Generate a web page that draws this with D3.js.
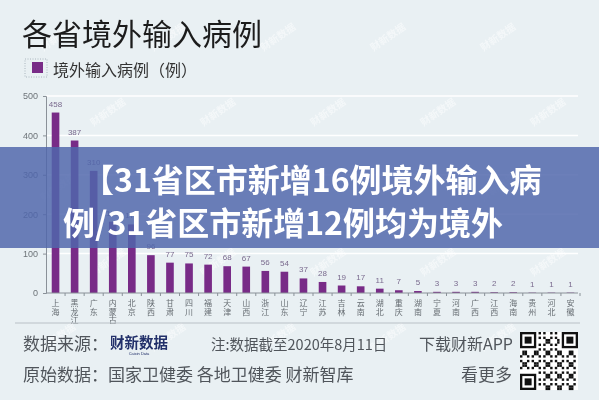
<!DOCTYPE html>
<html>
<head>
<meta charset="utf-8">
<script src="https://cdn.jsdelivr.net/npm/d3@7"></script>
<style>
  body { margin: 0; background: #e9f0f3; }
  svg { display: block; font-family: "Noto Sans CJK SC", "Noto Sans", sans-serif; }
</style>
</head>
<body>
<svg id="chart" width="599" height="400"></svg>
<script>
// data
var provinces = ["上海","黑龙江","广东","内蒙古","北京","陕西","甘肃","四川","福建","天津","山西","浙江","山东","辽宁",
                 "江苏","吉林","云南","湖北","重庆","湖南","宁夏","河南","广西","江西","海南","贵州","河北","安徽"];
var cases = [458,387,310,181,174,96,77,75,72,68,67,56,54,37,28,19,17,11,7,5,3,3,3,2,2,1,1,1];
var yTicks = [0,100,200,300,400,500];

var title = "各省境外输入病例";
var legendLabel = "境外输入病例（例）";
var bannerLines = ["【31省区市新增16例境外输入病", "例/31省区市新增12例均为境外"];

var svg = d3.select("#chart");
var W = 599, H = 400;
var barColor = "#782b87";

svg.append("rect").attr("width", W).attr("height", H).attr("fill", "#e9f0f3");

// faint watermarks, kept away from the edges
var wm = svg.append("g").attr("fill", "#ffffff").attr("opacity", 0.5)
  .style("font-size", "10px").style("font-weight", "bold");
for (var r = 0; r < 5; r++) {
  for (var c = 0; c < 5; c++) {
    var wx = 60 + c * 110 + (r % 2) * 50, wy = 40 + r * 75;
    if (wx > 560) continue;
    wm.append("text").attr("transform", "translate(" + wx + "," + wy + ") rotate(-35)")
      .attr("text-anchor", "middle").text("财新数据");
  }
}

// title + legend
svg.append("text").attr("x", 22).attr("y", 45).attr("fill", "#1c1c1c")
  .style("font-size", "30px").text(title);
svg.append("rect").attr("x", 25).attr("y", 59).attr("width", 22).attr("height", 18)
  .attr("fill", "none").attr("stroke", "#9aa6b0").attr("stroke-width", 0.8).attr("stroke-dasharray", "1,1.5");
svg.append("rect").attr("x", 32).attr("y", 62).attr("width", 11).attr("height", 11).attr("fill", barColor);
svg.append("text").attr("x", 53).attr("y", 76).attr("fill", "#333")
  .style("font-size", "16px").text(legendLabel);

// scales
var x = d3.scaleBand().domain(provinces).range([46, 580]).paddingInner(0.6).paddingOuter(0.3);
var y = d3.scaleLinear().domain([0, 500]).range([293, 96]);

// gridlines
svg.append("g").selectAll("line").data(yTicks.slice(1)).enter().append("line")
  .attr("x1", 46).attr("x2", 578).attr("y1", y).attr("y2", y)
  .attr("stroke", "#ffffff").attr("stroke-width", 1.5);

// y axis
var yAxis = svg.append("g").attr("transform", "translate(46,0)")
  .call(d3.axisLeft(y).tickValues(yTicks).tickSize(3).tickPadding(5));
yAxis.select(".domain").attr("stroke", "#8a9198");
yAxis.selectAll(".tick line").attr("stroke", "#8a9198");
yAxis.selectAll("text").attr("fill", "#6d7378").style("font-size", "9px").style("font-family", "Liberation Sans, sans-serif");

// bars
svg.append("g").selectAll("rect").data(cases).enter().append("rect")
  .attr("x", function(d, i) { return x(provinces[i]); })
  .attr("y", function(d) { return y(d); })
  .attr("width", x.bandwidth())
  .attr("height", function(d) { return y(0) - y(d); })
  .attr("fill", barColor);

// value labels
svg.append("g").selectAll("text").data(cases).enter().append("text")
  .attr("x", function(d, i) { return x(provinces[i]) + x.bandwidth() / 2; })
  .attr("y", function(d) { return y(d) - 6; })
  .attr("text-anchor", "middle").attr("fill", "#7a6a8e")
  .style("font-size", "8px").style("font-family", "Liberation Sans, sans-serif")
  .text(function(d) { return d; });

// x axis line with ticks between bars
svg.append("line").attr("x1", 46).attr("x2", 578).attr("y1", y(0)).attr("y2", y(0))
  .attr("stroke", "#8a9198").attr("stroke-width", 1);
svg.append("g").selectAll("line").data(provinces).enter().append("line")
  .attr("x1", function(d) { return x(d) + x.bandwidth() / 2 + x.step() / 2; })
  .attr("x2", function(d) { return x(d) + x.bandwidth() / 2 + x.step() / 2; })
  .attr("y1", y(0)).attr("y2", y(0) + 3).attr("stroke", "#8a9198");

// vertical category labels
var xl = svg.append("g");
provinces.forEach(function(p) {
  p.split("").forEach(function(ch, k) {
    xl.append("text")
      .attr("x", x(p) + x.bandwidth() / 2)
      .attr("y", 306 + k * 8.5)
      .attr("text-anchor", "middle").attr("fill", "#666c72")
      .style("font-size", "8px").text(ch);
  });
});

// banner overlay
svg.append("rect").attr("x", 0).attr("y", 147).attr("width", W).attr("height", 101)
  .attr("fill", "#5066ab").attr("opacity", 0.84);
svg.append("text").attr("x", 82).attr("y", 192).attr("fill", "#fff")
  .style("font-size", "32px").style("font-weight", "bold").text(bannerLines[0]);
svg.append("text").attr("x", 63).attr("y", 235).attr("fill", "#fff")
  .style("font-size", "32px").style("font-weight", "bold").text(bannerLines[1]);

// footer
svg.append("line").attr("x1", 15).attr("x2", 580).attr("y1", 323).attr("y2", 323)
  .attr("stroke", "#b9c0c6").attr("stroke-width", 1);
var foot = svg.append("g").attr("fill", "#50555b");
foot.append("text").attr("x", 23).attr("y", 350).style("font-size", "17px").text("数据来源：");
foot.append("text").attr("x", 110).attr("y", 348).attr("fill", "#22306a")
  .style("font-size", "14.5px").style("font-weight", "bold").text("财新数据");
foot.append("text").attr("x", 139).attr("y", 355).attr("text-anchor", "middle").attr("fill", "#22306a")
  .style("font-size", "4px").style("font-family", "Liberation Sans, sans-serif").text("Caixin Data");
foot.append("text").attr("x", 211).attr("y", 350).style("font-size", "14.5px").text("注:数据截至2020年8月11日");
foot.append("text").attr("x", 513).attr("y", 350).attr("text-anchor", "end").style("font-size", "16px").text("下载财新APP");
foot.append("text").attr("x", 23).attr("y", 381).style("font-size", "17px").text("原始数据：国家卫健委 各地卫健委 财新智库");
foot.append("text").attr("x", 512).attr("y", 381).attr("text-anchor", "end").style("font-size", "17px").text("看更多");

// QR-like decoration (deterministic)
var qr = svg.append("g").attr("transform", "translate(520,332)");
var n = 25, cell = 58 / n;
qr.append("rect").attr("width", 58).attr("height", 58).attr("fill", "#fff");
function finder(cx, cy) {
  qr.append("rect").attr("x", cx * cell).attr("y", cy * cell).attr("width", 7 * cell).attr("height", 7 * cell).attr("fill", "#111");
  qr.append("rect").attr("x", (cx + 1) * cell).attr("y", (cy + 1) * cell).attr("width", 5 * cell).attr("height", 5 * cell).attr("fill", "#fff");
  qr.append("rect").attr("x", (cx + 2) * cell).attr("y", (cy + 2) * cell).attr("width", 3 * cell).attr("height", 3 * cell).attr("fill", "#111");
}
for (var i = 0; i < n; i++) {
  for (var j = 0; j < n; j++) {
    if ((i < 8 && j < 8) || (i > n - 9 && j < 8) || (i < 8 && j > n - 9)) continue;
    if (((i * 7 + j * 13 + i * j * 3) % 5) < 2) {
      qr.append("rect").attr("x", i * cell).attr("y", j * cell).attr("width", cell + 0.1).attr("height", cell + 0.1).attr("fill", "#111");
    }
  }
}
finder(0, 0); finder(n - 7, 0); finder(0, n - 7);
</script>
</body>
</html>
